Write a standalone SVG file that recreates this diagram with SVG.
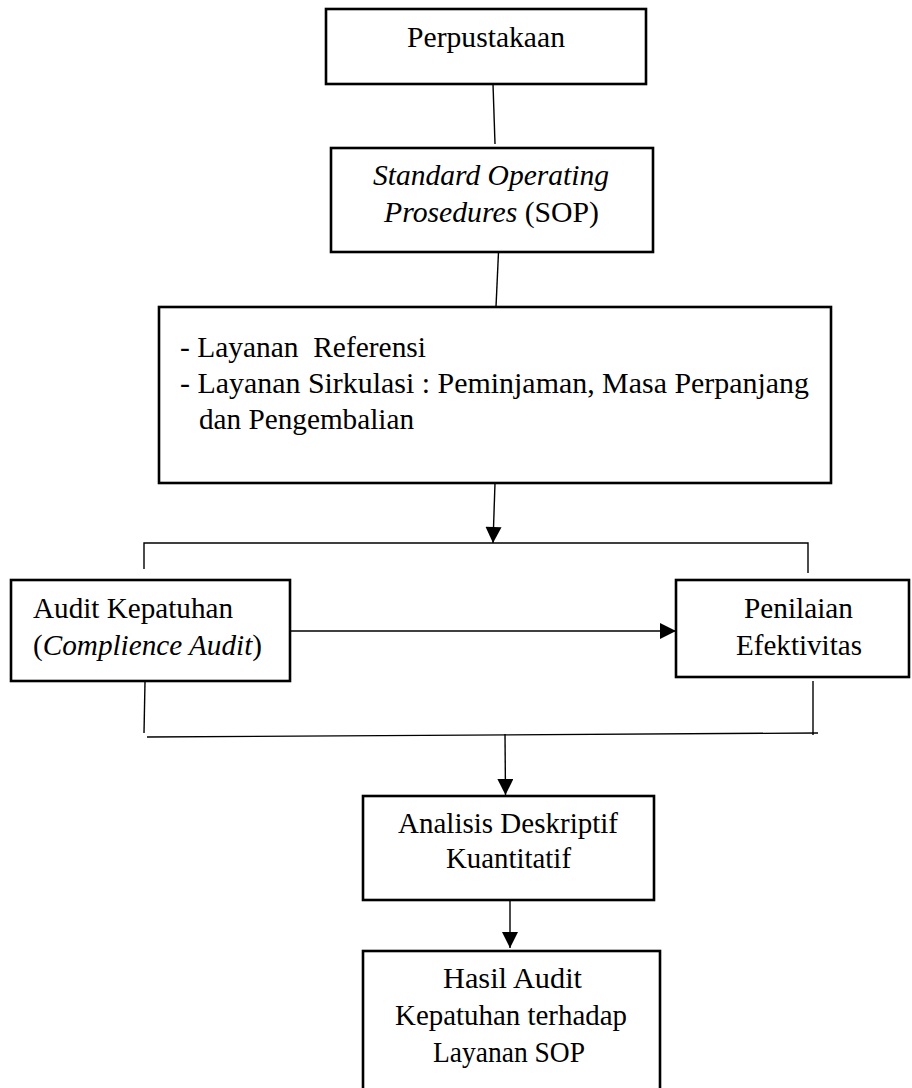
<svg xmlns="http://www.w3.org/2000/svg" width="912" height="1088" viewBox="0 0 912 1088">
<style>
.box{fill:#fff;stroke:#000;stroke-width:2.6}
.t{font-family:'Liberation Serif','Times New Roman',serif;font-size:29px;fill:#000;white-space:pre}
.i{font-style:italic}
.c{fill:none;stroke:#000;stroke-width:1.4}
</style>
<defs>
<marker id="ah" markerUnits="userSpaceOnUse" markerWidth="17" markerHeight="16" viewBox="0 0 16 16" refX="16" refY="8" orient="auto">
<path d="M0,0 L16,8 L0,16 Z" fill="#000"/>
</marker>
</defs>
<g id="connectors">
<line class="c" x1="493" y1="84" x2="495" y2="144"/>
<line class="c" x1="498.5" y1="252" x2="496" y2="307"/>
<line class="c" x1="495" y1="483" x2="493" y2="543" marker-end="url(#ah)"/>
<polyline class="c" points="144,569 144,543 808,543 808,573"/>
<line class="c" x1="290" y1="631" x2="676" y2="631" marker-end="url(#ah)"/>
<line class="c" x1="145" y1="682" x2="144" y2="733"/>
<line class="c" x1="813" y1="681" x2="813" y2="735"/>
<line class="c" x1="147" y1="737" x2="818" y2="733"/>
<line class="c" x1="505" y1="734" x2="505.5" y2="795" marker-end="url(#ah)"/>
<line class="c" x1="510" y1="900" x2="510" y2="948" marker-end="url(#ah)"/>
</g>
<g id="perpustakaan">
<rect class="box" x="326" y="9" width="320" height="75"/>
<text class="t" x="407" y="47" textLength="158" lengthAdjust="spacingAndGlyphs">Perpustakaan</text>
</g>
<g id="sop">
<rect class="box" x="331" y="148" width="322" height="104"/>
<text class="t i" x="373" y="185" textLength="236" lengthAdjust="spacingAndGlyphs">Standard Operating</text>
<text class="t" x="384" y="222" textLength="215" lengthAdjust="spacingAndGlyphs"><tspan class="i">Prosedures</tspan> (SOP)</text>
</g>
<g id="layanan">
<rect class="box" x="159" y="307" width="672" height="176"/>
<text class="t" x="180" y="357" textLength="246" lengthAdjust="spacingAndGlyphs">- Layanan  Referensi</text>
<text class="t" x="180" y="393" textLength="629" lengthAdjust="spacingAndGlyphs">- Layanan Sirkulasi : Peminjaman, Masa Perpanjang</text>
<text class="t" x="199" y="429" textLength="215" lengthAdjust="spacingAndGlyphs">dan Pengembalian</text>
</g>
<g id="audit">
<rect class="box" x="11" y="580" width="279" height="101"/>
<text class="t" x="33" y="618" textLength="200" lengthAdjust="spacingAndGlyphs">Audit Kepatuhan</text>
<text class="t" x="33" y="655" textLength="229" lengthAdjust="spacingAndGlyphs">(<tspan class="i">Complience Audit</tspan>)</text>
</g>
<g id="penilaian">
<rect class="box" x="676" y="580" width="233" height="97"/>
<text class="t" x="744" y="618" textLength="109" lengthAdjust="spacingAndGlyphs">Penilaian</text>
<text class="t" x="736" y="655" textLength="126" lengthAdjust="spacingAndGlyphs">Efektivitas</text>
</g>
<g id="analisis">
<rect class="box" x="363" y="796" width="291" height="104"/>
<text class="t" x="398" y="833" textLength="220" lengthAdjust="spacingAndGlyphs">Analisis Deskriptif</text>
<text class="t" x="446" y="868" textLength="125" lengthAdjust="spacingAndGlyphs">Kuantitatif</text>
</g>
<g id="hasil">
<rect class="box" x="363" y="951" width="297" height="150"/>
<text class="t" x="443" y="988" textLength="139" lengthAdjust="spacingAndGlyphs">Hasil Audit</text>
<text class="t" x="395" y="1025" textLength="232" lengthAdjust="spacingAndGlyphs">Kepatuhan terhadap</text>
<text class="t" x="433" y="1062" textLength="152" lengthAdjust="spacingAndGlyphs">Layanan SOP</text>
</g>
</svg>
